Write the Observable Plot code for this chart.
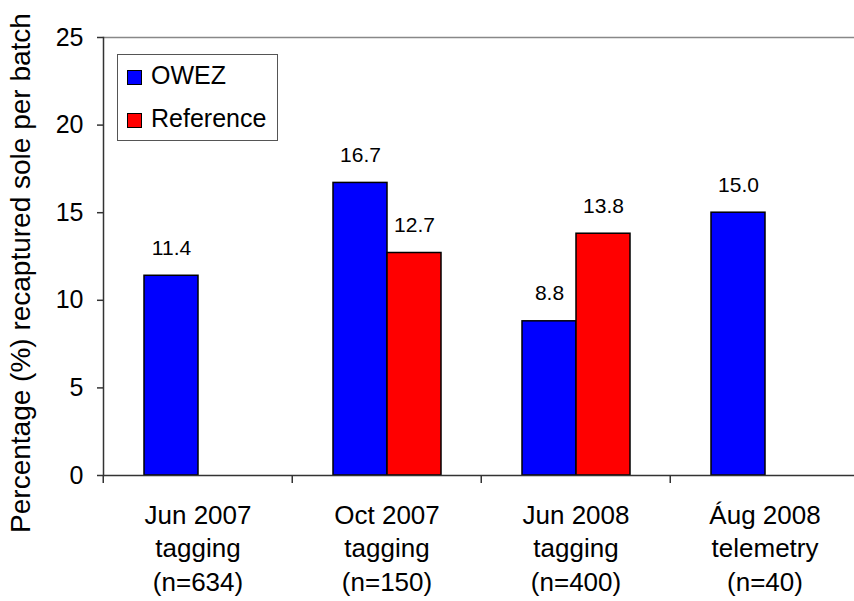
<!DOCTYPE html>
<html>
<head>
<meta charset="utf-8">
<script src="https://cdn.jsdelivr.net/npm/d3@7"></script>
<script src="https://cdn.jsdelivr.net/npm/@observablehq/plot@0.6"></script>
<style>
  html, body { margin: 0; padding: 0; background: white; }
  #wrap { position: relative; width: 854px; height: 601px; overflow: hidden; font-family: Arial, "Liberation Sans", sans-serif; }
  #legend { position: absolute; left: 117px; top: 54px; width: 161px; height: 87px; border: 1px solid #555; background: white; box-sizing: border-box; }
  .item { position: absolute; left: 9px; display: flex; align-items: center; font-size: 25px; color: black; }
  .sw { width: 15px; height: 15px; border: 1.5px solid black; box-sizing: border-box; margin-right: 9px; margin-top: 4px; }
  #ytitle { position: absolute; left: 21px; top: 273px; transform: translate(-50%, -50%) rotate(-90deg); white-space: nowrap; font-size: 28px; line-height: 1; color: black; }
</style>
</head>
<body>
<div id="wrap"></div>
<script>
const months = ["Jun 2007", "Oct 2007", "Jun 2008", "Áug 2008"];
const kinds = ["tagging", "tagging", "tagging", "telemetry"];
const sizes = ["(n=634)", "(n=150)", "(n=400)", "(n=40)"];
const seriesNames = ["OWEZ", "Reference"];
const seriesColors = ["#0000ff", "#ff0000"];
const owez = [11.4, 16.7, 8.8, 15.0];
const reference = [null, 12.7, 13.8, null];
const yTicks = [0, 5, 10, 15, 20, 25];
const yLabel = "Percentage (%) recaptured sole per batch";

const categories = months.map((m, i) => `${m}\n${kinds[i]}\n${sizes[i]}`);
const data = [];
categories.forEach((c, i) => {
  if (owez[i] != null) data.push({cat: c, series: seriesNames[0], value: owez[i]});
  if (reference[i] != null) data.push({cat: c, series: seriesNames[1], value: reference[i]});
});

const W = 854, H = 601, mL = 102, mR = -6, mT = 37, mB = 126;
const step = (W - mL - mR) / categories.length;

const chart = Plot.plot({
  width: W, height: H,
  marginLeft: mL, marginRight: mR, marginTop: mT, marginBottom: mB,
  style: {fontFamily: "Arial, 'Liberation Sans', sans-serif", fontSize: "25px", color: "black", background: "white", overflow: "visible"},
  fx: {domain: categories, padding: 0, axis: null, label: null},
  x: {domain: seriesNames, paddingInner: 0, paddingOuter: 0.734, align: 0.5, axis: null},
  y: {domain: [0, 25], axis: null},
  color: {domain: seriesNames, range: seriesColors},
  marks: [
    Plot.ruleY([25], {stroke: "#888", strokeWidth: 1.5}),
    Plot.barY(data, {fx: "cat", x: "series", y: "value", fill: "series", stroke: "black", strokeWidth: 1.5}),
    Plot.text(data, {fx: "cat", x: "series", y: "value", text: d => d.value.toFixed(1), dy: -21, lineAnchor: "bottom", fontSize: 21, fill: "black"}),
    Plot.ruleY([0], {stroke: "#333", strokeWidth: 1.5}),
    Plot.frame({anchor: "left", facetAnchor: "left", stroke: "#333", strokeWidth: 1.5}),
    Plot.axisY({ticks: yTicks, tickSize: 6, tickPadding: 14, fontSize: 25, stroke: "#333", strokeWidth: 1.5, label: null}),
    Plot.axisFx({anchor: "bottom", tickSize: 8, tickFormat: () => "", dx: -step / 2, stroke: "#333", strokeWidth: 1.5, label: null}),
    Plot.axisFx({anchor: "bottom", tickSize: 0, tickPadding: 24, fontSize: 26, lineHeight: 1.3, label: null})
  ]
});

const wrap = document.getElementById("wrap");
wrap.appendChild(chart);

const title = document.createElement("div");
title.id = "ytitle";
title.textContent = yLabel;
wrap.appendChild(title);

const legend = document.createElement("div");
legend.id = "legend";
seriesNames.forEach((s, i) => {
  const item = document.createElement("div");
  item.className = "item";
  item.style.top = (i === 0 ? 6 : 49) + "px";
  const sw = document.createElement("div");
  sw.className = "sw";
  sw.style.background = seriesColors[i];
  const t = document.createElement("span");
  t.textContent = s;
  item.appendChild(sw);
  item.appendChild(t);
  legend.appendChild(item);
});
wrap.appendChild(legend);
</script>
</body>
</html>
